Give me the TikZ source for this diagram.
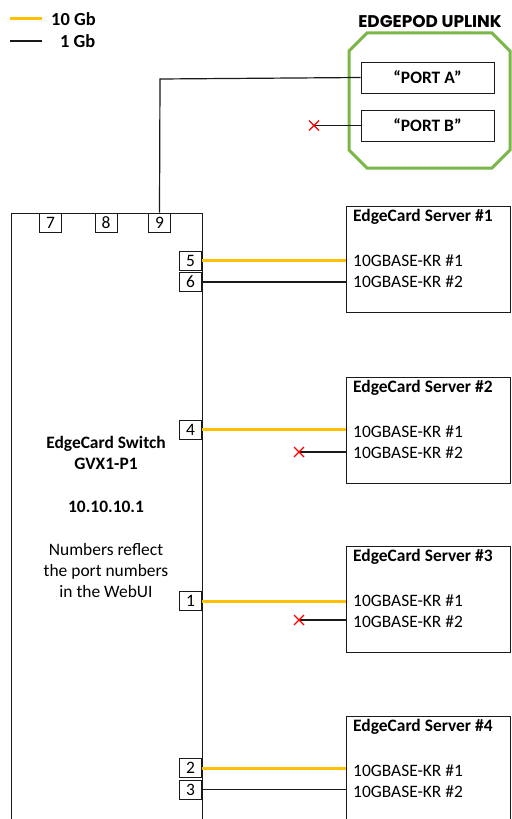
\documentclass[tikz,border=0pt]{standalone}
\usepackage{fontspec}
\setmainfont{Carlito}
\newfontfamily\titlefont{Poppins}
\definecolor{gold}{HTML}{FFC000}
\definecolor{podgreen}{HTML}{7AB648}
\definecolor{xred}{HTML}{FF0000}
\definecolor{ink}{HTML}{1A1A1A}
\newcommand{\fs}{\fontsize{17.5}{21}\selectfont}
\begin{document}
\begin{tikzpicture}[x=1bp,y=-1bp,
  every node/.style={font=\fs,text=black},
  ten/.style={draw=gold,line width=3bp},
  one/.style={draw=ink,line width=1.2bp},
  port/.style={draw=ink,line width=0.9bp,minimum width=22bp,minimum height=19bp,inner sep=0pt},
  pbox/.style={draw=ink,line width=0.9bp,minimum width=133bp,minimum height=31bp,inner sep=0pt,font=\fs\bfseries},
  server/.style={draw=ink,line width=0.9bp,minimum width=164bp,minimum height=106bp,anchor=north west,inner sep=0pt},
  slabel/.style={anchor=west,inner sep=0pt},
  stitle/.style={anchor=west,inner sep=0pt,font=\fs\bfseries},
  redx/.style={draw=xred,line width=1.1bp}]
\useasboundingbox (0,0) rectangle (512,819);
\clip (0,0) rectangle (512,819);
\fill[white] (0,0) rectangle (512,819);

% legend
\coordinate (la) at (10,19); \coordinate (lb) at (42,19);
\coordinate (lc) at (10,41); \coordinate (ld) at (42,41);
\draw[ten] (la) -- (lb);
\draw[ink,line width=1.2bp] (lc) -- (ld);
\node[anchor=west,inner sep=0pt,font=\fontsize{18.5}{21}\selectfont\bfseries] (l10) at (51,19) {10 Gb};
\node[anchor=west,inner sep=0pt,font=\fontsize{18.5}{21}\selectfont\bfseries] (l1) at (60,41) {1 Gb};

% edgepod uplink
\node[font=\titlefont\fontsize{17}{20}\selectfont\bfseries] (podtitle) at (430,22) {EDGEPOD UPLINK};
\draw[podgreen,line width=3bp,line join=miter]
  (349,51) -- (367,33) -- (492,33) -- (510,51) -- (510,150) -- (492,168) -- (367,168) -- (349,150) -- cycle;
\node[pbox] (pa) at (427.5,77.5) {“PORT A”};
\node[pbox] (pb) at (427.5,125.5) {“PORT B”};

% switch
\node[draw=ink,line width=1.1bp,minimum width=191bp,minimum height=700bp,anchor=north west,inner sep=0pt] (sw) at (11,212.5) {};
\node[port,anchor=north] (p7) at (50.5,212.5) {7};
\node[port,anchor=north] (p8) at (106,212.5) {8};
\node[port,anchor=north] (p9) at (159.5,212.5) {9};
\node[port,anchor=east] (p5) at (202,260.5) {5};
\node[port,anchor=east] (p6) at (202,282) {6};
\node[port,anchor=east] (p4) at (202,429.5) {4};
\node[port,anchor=east] (p1) at (202,601) {1};
\node[port,anchor=east] (p2) at (202,768) {2};
\node[port,anchor=east] (p3) at (202,789.5) {3};

\node[align=center,font=\fs\bfseries] (swname) at (106,452.5) {EdgeCard Switch\\GVX1-P1};
\node[font=\fs\bfseries] (swip) at (106,507) {10.10.10.1};
\node[align=center] (swnote) at (106,570.5) {Numbers reflect\\the port numbers\\in the WebUI};

% uplink connectors
\coordinate (bend) at (160,79);
\draw[one] (pa.west) -- (bend) -- (p9.north);
\coordinate (xb) at (314,125.5);
\draw[one] (pb.west) -- (xb);

% servers
\foreach \i/\y in {1/206,2/377,3/546,4/716}{
  \node[server] (s\i) at (346,\y) {};
  \node[stitle] (s\i t) at (353,\y+11) {EdgeCard Server \#\i};
  \node[slabel] (s\i a) at (353,\y+54.5) {10GBASE-KR \#1};
  \node[slabel] (s\i b) at (353,\y+75.5) {10GBASE-KR \#2};
}

% server links
\draw[ten] (p5.east) -- (p5.east -| s1.west);
\draw[one] (p6.east) -- (p6.east -| s1.west);
\draw[ten] (p4.east) -- (p4.east -| s2.west);
\draw[ten] (p1.east) -- (p1.east -| s3.west);
\draw[ten] (p2.east) -- (p2.east -| s4.west);
\draw[one] (p3.east) -- (p3.east -| s4.west);

\coordinate (x2) at (299,452);
\coordinate (x3) at (299,620);
\draw[one] (x2) -- (x2 -| s2.west);
\draw[one] (x3) -- (x3 -| s3.west);
\foreach \c in {xb,x2,x3}{
  \draw[redx] ([shift={(-5,-5)}]\c) -- ([shift={(5,5)}]\c) ([shift={(-5,5)}]\c) -- ([shift={(5,-5)}]\c);
}
\end{tikzpicture}
\end{document}
